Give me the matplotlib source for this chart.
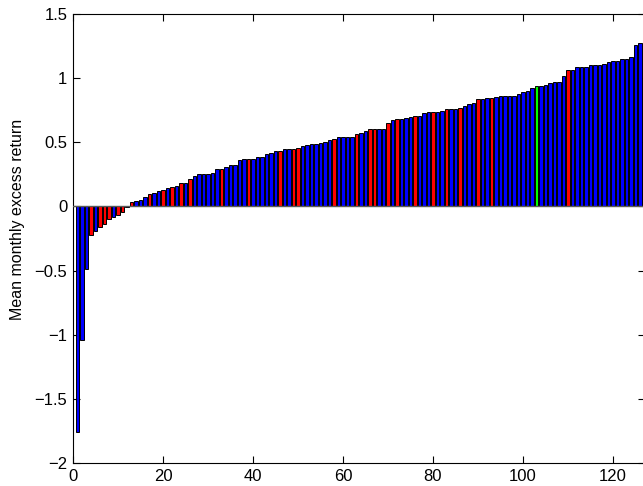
import numpy as np
import matplotlib
matplotlib.use('Agg')
from matplotlib import pyplot as plt

# mean monthly excess return per portfolio, sorted (126 bars)
returns = [
    -1.76, -1.04, -0.49, -0.22, -0.19, -0.16, -0.135, -0.095, -0.082, -0.066,
    -0.04, -0.005, 0.033, 0.043, 0.05, 0.074, 0.10, 0.105, 0.118, 0.126,
    0.144, 0.15, 0.162, 0.183, 0.183, 0.217, 0.235, 0.25, 0.252, 0.256,
    0.26, 0.295, 0.295, 0.31, 0.32, 0.32, 0.362, 0.37, 0.37, 0.37,
    0.388, 0.388, 0.407, 0.42, 0.433, 0.433, 0.446, 0.446, 0.446, 0.453,
    0.47, 0.48, 0.485, 0.487, 0.497, 0.503, 0.518, 0.526, 0.539, 0.539,
    0.544, 0.544, 0.565, 0.573, 0.586, 0.60, 0.60, 0.607, 0.607, 0.648,
    0.674, 0.682, 0.682, 0.687, 0.697, 0.703, 0.703, 0.729, 0.734, 0.734,
    0.734, 0.747, 0.757, 0.762, 0.762, 0.77, 0.786, 0.797, 0.807, 0.835,
    0.838, 0.843, 0.843, 0.856, 0.861, 0.864, 0.864, 0.864, 0.874, 0.89,
    0.90, 0.92, 0.937, 0.94, 0.947, 0.965, 0.973, 0.973, 1.02, 1.061,
    1.061, 1.085, 1.088, 1.088, 1.10, 1.105, 1.105, 1.11, 1.126, 1.13,
    1.13, 1.147, 1.152, 1.163, 1.259, 1.272,
]
# bars (1-based position) drawn in red, and the single green one
red_bars = [4, 6, 7, 8, 10, 11, 13, 17, 20, 22, 24, 26, 33, 39, 46, 49, 50, 58,
            63, 66, 67, 70, 72, 76, 80, 83, 86, 90, 93, 110]
green_bars = [103]

n = len(returns)
x = np.arange(1, n + 1)
kleuren = []
for i in x:
    if i in green_bars:
        kleuren.append((0, 1, 0))
    elif i in red_bars:
        kleuren.append((1, 0, 0))
    else:
        kleuren.append((0, 0, 1))

plt.rcParams['font.family'] = ['Liberation Sans', 'DejaVu Sans']

fig = plt.figure(figsize=(6.43, 4.86), dpi=100)
ax = fig.add_axes([73 / 643, 23 / 486, 571.5 / 643, 449 / 486])

ax.bar(x, returns, width=0.8, color=kleuren, edgecolor='black', linewidth=0.7, zorder=2)
ax.axhline(0, color='0.35', linewidth=1.0, zorder=3)

ax.set_xlim(0, n + 1)
ax.set_ylim(-2, 1.5)
ax.set_xticks(np.arange(0, 121, 20))
ax.set_yticks(np.arange(-2, 1.51, 0.5))
ax.set_yticklabels(['\u22122', '\u22121.5', '\u22121', '\u22120.5', '0', '0.5', '1', '1.5'])
ax.tick_params(direction='in', top=True, right=True, length=5, width=0.8,
               labelsize=12, pad=4)
for s in ax.spines.values():
    s.set_linewidth(0.8)
ax.set_ylabel('Mean monthly excess return', fontsize=11.5)
ax.yaxis.set_label_coords(-0.084, 0.543)

fig.savefig('out.png', dpi=100)
